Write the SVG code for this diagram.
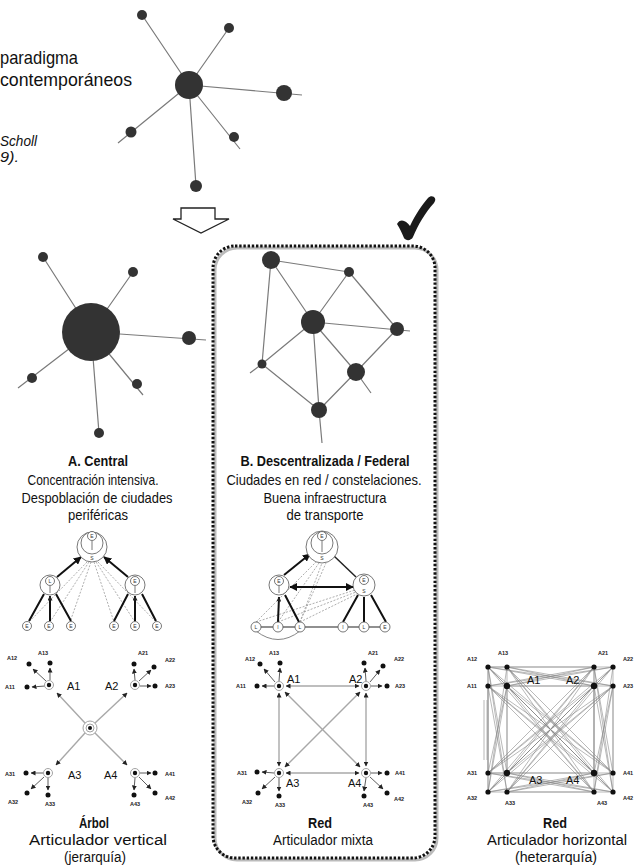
<svg xmlns="http://www.w3.org/2000/svg" width="638" height="865" viewBox="0 0 638 865">
<style>
text{font-family:"Liberation Sans Narrow","Liberation Sans",Arial,sans-serif;fill:#111}
.t{font-size:15px;text-anchor:middle}
.s{font-size:14px}
.b{font-weight:bold}
.hd{font-size:19px}
.lf{font-size:5.5px;font-weight:bold;text-anchor:middle;fill:#222}
.hb{font-size:11px}
.ch{font-size:5px;text-anchor:middle;fill:#333}
.sl{stroke:#7a7a7a;stroke-width:1.2;fill:none}
.nd{fill:#333}
.ring{fill:#fff;stroke:#555;stroke-width:0.8}
.thk{stroke:#111;stroke-width:2;fill:none}
.thn{stroke:#222;stroke-width:1.2;fill:none}
.dsh{stroke:#999;stroke-width:0.8;stroke-dasharray:2 1.5;fill:none}
.gl{stroke:#a8a8a8;stroke-width:1.4;fill:none}
.la{stroke:#333;stroke-width:0.8;fill:none}
.ae{marker-end:url(#ma)}
.ab{marker-start:url(#ma);marker-end:url(#ma)}
.dot{fill:#111}
.hr{fill:#fff;stroke:#999;stroke-width:0.9}
.mesh{stroke:#8a8a8a;stroke-width:0.6;fill:none}
</style>
<defs>
<marker id="ma" viewBox="0 0 10 10" refX="9" refY="5" markerWidth="5" markerHeight="5" markerUnits="userSpaceOnUse" orient="auto-start-reverse"><path d="M0,0L10,5L0,10z" fill="#222"/></marker>
<marker id="mb" viewBox="0 0 10 10" refX="9" refY="5" markerWidth="8" markerHeight="8" markerUnits="userSpaceOnUse" orient="auto-start-reverse"><path d="M0,0L10,5L0,10z" fill="#111"/></marker>
</defs>

<g id="heading">
<text class="hd" x="0" y="64" textLength="78" lengthAdjust="spacingAndGlyphs">paradigma</text>
<text class="hd" x="0" y="86" textLength="132" lengthAdjust="spacingAndGlyphs">contemporáneos</text>
<text x="0" y="146" font-size="14" font-style="italic" textLength="37" lengthAdjust="spacingAndGlyphs">Scholl</text>
<text x="0" y="162" font-size="14" font-style="italic" textLength="19" lengthAdjust="spacingAndGlyphs">9).</text>
</g>

<g id="star-top">
<path class="sl" d="M189 85L142 15M189 85L229 28M189 85L302 95M189 85L118 143M189 85L240 149M189 85L196 186"/>
<circle class="nd" cx="189" cy="85" r="14"/>
<circle class="nd" cx="142" cy="15" r="5"/>
<circle class="nd" cx="229" cy="28" r="5"/>
<circle class="nd" cx="284" cy="93" r="8"/>
<circle class="nd" cx="131" cy="132" r="5.5"/>
<circle class="nd" cx="234" cy="137" r="5"/>
<circle class="nd" cx="196" cy="186" r="6"/>
</g>

<g id="transition-arrow">
<path d="M181 208H215V219H229L201 233L173 219H181Z" fill="#fff" stroke="#222" stroke-width="1.3"/>
</g>

<g id="checkmark">
<path d="M397 224C400 218 406 220 410 226C415 215 422 205 428 198C432 194 438 198 434 203C425 213 418 225 413 237C411 241 406 241 404 238C402 233 400 229 397 224Z" fill="#1a1a1a"/>
</g>

<g id="frame">
<rect x="215" y="248" width="222" height="612" rx="22" fill="none" stroke="#bbb" stroke-width="3"/>
<rect x="213" y="246" width="222" height="612" rx="22" fill="none" stroke="#111" stroke-width="3" stroke-dasharray="2.4 1.8"/>
</g>

<g id="star-central">
<path class="sl" d="M91 332L43 257M91 332L133 272M91 332L206 340M91 332L18 388M91 332L143 395M91 332L99 433"/>
<circle class="nd" cx="91" cy="332" r="29"/>
<circle class="nd" cx="43" cy="257" r="5"/>
<circle class="nd" cx="133" cy="272" r="5"/>
<circle class="nd" cx="189" cy="338" r="7"/>
<circle class="nd" cx="32" cy="378" r="5"/>
<circle class="nd" cx="137" cy="384" r="5"/>
<circle class="nd" cx="99" cy="433" r="5"/>
</g>

<g id="network-federal">
<path class="sl" d="M271 260L349 272M271 260L313 322M271 260L262 364M349 272L313 322M349 272L397 329M313 322L410 331M313 322L262 364M313 322L356 372M313 322L319 410M262 364L250 373M262 364L319 410M356 372L319 410M356 372L397 329M356 372L371 393M319 410L322 443"/>
<circle class="nd" cx="271" cy="260" r="9"/>
<circle class="nd" cx="349" cy="272" r="5"/>
<circle class="nd" cx="313" cy="322" r="12"/>
<circle class="nd" cx="397" cy="329" r="7"/>
<circle class="nd" cx="262" cy="364" r="4.5"/>
<circle class="nd" cx="356" cy="372" r="9"/>
<circle class="nd" cx="319" cy="410" r="8"/>
</g>

<g id="caption-central">
<text class="t b" x="98" y="466" textLength="60" lengthAdjust="spacingAndGlyphs">A. Central</text>
<text class="t" x="93" y="484.5" textLength="131" lengthAdjust="spacingAndGlyphs">Concentración intensiva.</text>
<text class="t" x="97" y="503" textLength="151" lengthAdjust="spacingAndGlyphs">Despoblación de ciudades</text>
<text class="t" x="98" y="520" textLength="60" lengthAdjust="spacingAndGlyphs">periféricas</text>
</g>

<g id="caption-federal">
<text class="t b" x="325" y="466" textLength="169" lengthAdjust="spacingAndGlyphs">B. Descentralizada / Federal</text>
<text class="t" x="324" y="484.5" textLength="195" lengthAdjust="spacingAndGlyphs">Ciudades en red / constelaciones.</text>
<text class="t" x="325" y="503" textLength="123" lengthAdjust="spacingAndGlyphs">Buena infraestructura</text>
<text class="t" x="325" y="520" textLength="77" lengthAdjust="spacingAndGlyphs">de transporte</text>
</g>

<g id="hier-central">
<path class="dsh" d="M87 562L29 622M89 562L50 622M91 562L70 622M94 562L114 622M96 562L135 622M98 562L156 622"/>
<path class="thk" d="M29 621L44 594M71 621L56 594M114 621L128 594M156 621L142 594"/>
<line class="thk" x1="50" y1="621" x2="50" y2="596" marker-end="url(#ma)"/>
<line class="thk" x1="135" y1="621" x2="135" y2="596" marker-end="url(#ma)"/>
<line class="thk" x1="57" y1="577" x2="81" y2="557" marker-end="url(#mb)"/>
<line class="thk" x1="128" y1="577" x2="104" y2="557" marker-end="url(#mb)"/>
<circle class="ring" cx="92" cy="547" r="15"/>
<circle class="ring" cx="92" cy="543" r="11"/>
<circle class="ring" cx="92" cy="536" r="4.5"/>
<line x1="92" y1="541" x2="92" y2="550" stroke="#555" stroke-width="0.8"/>
<text class="ch" x="92" y="538">E</text>
<text class="ch" x="92" y="560">S</text>
<circle class="ring" cx="50" cy="585" r="10"/>
<circle class="ring" cx="50" cy="581" r="4.5"/>
<line x1="50" y1="586" x2="50" y2="593" stroke="#555" stroke-width="0.8"/>
<text class="ch" x="50" y="583">L</text>
<circle class="ring" cx="135" cy="585" r="10"/>
<circle class="ring" cx="135" cy="581" r="4.5"/>
<line x1="135" y1="586" x2="135" y2="593" stroke="#555" stroke-width="0.8"/>
<text class="ch" x="135" y="583">E</text>
<circle class="ring" cx="27" cy="626" r="4.5"/><text class="ch" x="27" y="628">E</text>
<circle class="ring" cx="49" cy="626" r="4.5"/><text class="ch" x="49" y="628">E</text>
<circle class="ring" cx="71" cy="626" r="4.5"/><text class="ch" x="71" y="628">E</text>
<circle class="ring" cx="114" cy="626" r="4.5"/><text class="ch" x="114" y="628">E</text>
<circle class="ring" cx="135" cy="626" r="4.5"/><text class="ch" x="135" y="628">E</text>
<circle class="ring" cx="157" cy="626" r="4.5"/><text class="ch" x="157" y="628">E</text>
</g>

<g id="hier-federal">
<path class="dsh" d="M256 622L316 562M256 622L355 590M278 622L319 563M278 622L356 592M300 622L322 563M300 622L326 563M300 622L357 594"/>
<path d="M256 631Q278 648 300 631" fill="none" stroke="#666" stroke-width="0.8"/>
<path class="thn" d="M261 627H273M283 627H295M305 627H338M348 627H359M369 627H380"/>
<path class="thk" d="M285 595L299 622M358 595L343 622M364 597L364 622M371 595L386 622"/>
<line class="thk" x1="278" y1="622" x2="279" y2="597" marker-end="url(#ma)"/>
<line class="thk" x1="284" y1="575" x2="310" y2="554" marker-end="url(#mb)"/>
<line x1="334" y1="556" x2="356" y2="577" stroke="#222" stroke-width="1.5"/>
<line class="thk" x1="290" y1="587" x2="353" y2="587" marker-start="url(#mb)" marker-end="url(#mb)"/>
<circle class="ring" cx="322" cy="547" r="16"/>
<circle class="ring" cx="322" cy="543" r="11"/>
<circle class="ring" cx="322" cy="536" r="4.5"/>
<line x1="322" y1="541" x2="322" y2="552" stroke="#555" stroke-width="0.8"/>
<text class="ch" x="322" y="538">E</text>
<text class="ch" x="322" y="560">S</text>
<circle class="ring" cx="279" cy="585" r="10"/>
<circle class="ring" cx="279" cy="581" r="4.5"/>
<line x1="279" y1="586" x2="279" y2="593" stroke="#555" stroke-width="0.8"/>
<text class="ch" x="279" y="583">E</text>
<circle class="ring" cx="364" cy="585" r="11"/>
<circle class="ring" cx="364" cy="580" r="4.5"/>
<text class="ch" x="364" y="582">E</text>
<text class="ch" x="364" y="593">S</text>
<circle class="ring" cx="256" cy="627" r="5"/><text class="ch" x="256" y="629">L</text>
<circle class="ring" cx="278" cy="627" r="5"/><text class="ch" x="278" y="629">I</text>
<circle class="ring" cx="300" cy="627" r="5"/><text class="ch" x="300" y="629">L</text>
<circle class="ring" cx="343" cy="627" r="5"/><text class="ch" x="343" y="629">I</text>
<circle class="ring" cx="364" cy="627" r="5"/><text class="ch" x="364" y="629">L</text>
<circle class="ring" cx="385" cy="627" r="5"/><text class="ch" x="385" y="629">E</text>
</g>

<g id="tree-arbol">
<line class="gl ae" x1="85" y1="723" x2="57" y2="693"/>
<line class="gl ae" x1="95" y1="723" x2="127" y2="693"/>
<line class="gl ae" x1="85" y1="733" x2="56" y2="765"/>
<line class="gl ae" x1="95" y1="733" x2="127" y2="765"/>
<line class="la ae" x1="45" y1="686" x2="32" y2="687"/>
<line class="la ae" x1="46" y1="681" x2="33" y2="669"/>
<line class="la ae" x1="50" y1="680" x2="50" y2="668"/>
<line class="la ae" x1="135" y1="680" x2="134" y2="669"/>
<line class="la ae" x1="139" y1="681" x2="151" y2="670"/>
<line class="la ae" x1="140" y1="686" x2="151" y2="686"/>
<line class="la ae" x1="43" y1="773" x2="31" y2="773"/>
<line class="la ae" x1="44" y1="777" x2="31" y2="789"/>
<line class="la ae" x1="48" y1="778" x2="48" y2="790"/>
<line class="la ae" x1="140" y1="773" x2="151" y2="773"/>
<line class="la ae" x1="139" y1="777" x2="151" y2="789"/>
<line class="la ae" x1="135" y1="778" x2="134" y2="790"/>
<circle class="hr" cx="90" cy="728" r="7"/>
<circle class="hr" cx="90" cy="728" r="4"/>
<circle class="dot" cx="90" cy="728" r="2"/>
<circle class="hr" cx="49" cy="685" r="4.5"/><circle class="dot" cx="49" cy="685" r="2.2"/>
<circle class="hr" cx="135" cy="685" r="4.5"/><circle class="dot" cx="135" cy="685" r="2.2"/>
<circle class="hr" cx="48" cy="773" r="4.5"/><circle class="dot" cx="48" cy="773" r="2.2"/>
<circle class="hr" cx="135" cy="773" r="4.5"/><circle class="dot" cx="135" cy="773" r="2.2"/>
<g class="dot">
<circle cx="27" cy="687" r="2.5"/><circle cx="29" cy="664" r="2.5"/><circle cx="50" cy="663" r="2.5"/>
<circle cx="134" cy="664" r="2.5"/><circle cx="154" cy="667" r="2.5"/><circle cx="155" cy="686" r="2.5"/>
<circle cx="26" cy="773" r="2.5"/><circle cx="27" cy="793" r="2.5"/><circle cx="48" cy="795" r="2.5"/>
<circle cx="155" cy="773" r="2.5"/><circle cx="155" cy="793" r="2.5"/><circle cx="134" cy="795" r="2.5"/>
</g>
<text class="hb" x="67" y="690">A1</text>
<text class="hb" x="105" y="690">A2</text>
<text class="hb" x="68" y="779">A3</text>
<text class="hb" x="104" y="779">A4</text>
<text class="lf" x="10" y="689">A11</text><text class="lf" x="12" y="660">A12</text><text class="lf" x="43" y="655">A13</text>
<text class="lf" x="143" y="655">A21</text><text class="lf" x="170" y="662">A22</text><text class="lf" x="170" y="688">A23</text>
<text class="lf" x="10" y="776">A31</text><text class="lf" x="13" y="804">A32</text><text class="lf" x="50" y="806">A33</text>
<text class="lf" x="170" y="776">A41</text><text class="lf" x="170" y="800">A42</text><text class="lf" x="135" y="806">A43</text>
<text class="t b" x="94" y="828" textLength="30" lengthAdjust="spacingAndGlyphs">Árbol</text>
<text class="t s" x="98" y="845" textLength="138" lengthAdjust="spacingAndGlyphs">Articulador vertical</text>
<text class="t s" x="95" y="862" textLength="62" lengthAdjust="spacingAndGlyphs">(jerarquía)</text>
</g>

<g id="tree-mixta">
<line class="gl ab" x1="286" y1="686" x2="359" y2="686"/>
<line class="gl ab" x1="279" y1="693" x2="279" y2="766"/>
<line class="gl ab" x1="366" y1="693" x2="366" y2="766"/>
<line class="gl ab" x1="286" y1="773" x2="359" y2="773"/>
<line class="gl ab" x1="285" y1="692" x2="360" y2="767"/>
<line class="gl ab" x1="360" y1="692" x2="285" y2="767"/>
<line class="la ae" x1="274" y1="686" x2="262" y2="686"/>
<line class="la ae" x1="275" y1="682" x2="264" y2="669"/>
<line class="la ae" x1="279" y1="681" x2="280" y2="668"/>
<line class="la ae" x1="366" y1="681" x2="365" y2="668"/>
<line class="la ae" x1="370" y1="682" x2="380" y2="670"/>
<line class="la ae" x1="371" y1="686" x2="382" y2="686"/>
<line class="la ae" x1="274" y1="773" x2="262" y2="772"/>
<line class="la ae" x1="275" y1="777" x2="262" y2="789"/>
<line class="la ae" x1="279" y1="778" x2="279" y2="791"/>
<line class="la ae" x1="371" y1="773" x2="382" y2="773"/>
<line class="la ae" x1="370" y1="777" x2="383" y2="789"/>
<line class="la ae" x1="366" y1="778" x2="364" y2="791"/>
<circle class="hr" cx="279" cy="686" r="4.5"/><circle class="dot" cx="279" cy="686" r="2.2"/>
<circle class="hr" cx="366" cy="686" r="4.5"/><circle class="dot" cx="366" cy="686" r="2.2"/>
<circle class="hr" cx="279" cy="773" r="4.5"/><circle class="dot" cx="279" cy="773" r="2.2"/>
<circle class="hr" cx="366" cy="773" r="4.5"/><circle class="dot" cx="366" cy="773" r="2.2"/>
<g class="dot">
<circle cx="257" cy="686" r="2.5"/><circle cx="260" cy="664" r="2.5"/><circle cx="280" cy="663" r="2.5"/>
<circle cx="364" cy="663" r="2.5"/><circle cx="383" cy="666" r="2.5"/><circle cx="387" cy="686" r="2.5"/>
<circle cx="257" cy="772" r="2.5"/><circle cx="258" cy="793" r="2.5"/><circle cx="279" cy="796" r="2.5"/>
<circle cx="387" cy="773" r="2.5"/><circle cx="387" cy="793" r="2.5"/><circle cx="364" cy="796" r="2.5"/>
</g>
<text class="hb" x="287" y="683">A1</text>
<text class="hb" x="349" y="683">A2</text>
<text class="hb" x="286" y="787">A3</text>
<text class="hb" x="348" y="787">A4</text>
<text class="lf" x="241" y="688">A11</text><text class="lf" x="250" y="661">A12</text><text class="lf" x="274" y="655">A13</text>
<text class="lf" x="373" y="655">A21</text><text class="lf" x="399" y="661">A22</text><text class="lf" x="400" y="688">A23</text>
<text class="lf" x="242" y="775">A31</text><text class="lf" x="247" y="804">A32</text><text class="lf" x="280" y="807">A33</text>
<text class="lf" x="400" y="775">A41</text><text class="lf" x="399" y="801">A42</text><text class="lf" x="368" y="807">A43</text>
<text class="t b" x="320" y="828" textLength="24" lengthAdjust="spacingAndGlyphs">Red</text>
<text class="t s" x="323" y="845" textLength="100" lengthAdjust="spacingAndGlyphs">Articulador mixta</text>
</g>

<g id="mesh-horizontal">
<path class="mesh" d="M488 667L594 773M488 667L613 773M488 667L594 792M488 667L613 792M507 667L594 773M507 667L613 773M507 667L594 792M507 667L613 792M488 686L594 773M488 686L613 773M488 686L594 792M488 686L613 792M507 686L594 773M507 686L613 773M507 686L594 792M507 686L613 792
M594 667L488 773M594 667L507 773M594 667L488 792M594 667L507 792M613 667L488 773M613 667L507 773M613 667L488 792M613 667L507 792M594 686L488 773M594 686L507 773M594 686L488 792M594 686L507 792M613 686L488 773M613 686L507 773M613 686L488 792M613 686L507 792
M488 667L594 667M488 667L613 667M488 667L594 686M488 667L613 686M507 667L594 686M507 667L613 686M488 686L594 667M488 686L613 667M488 686L613 686M507 686L594 667M507 686L613 667M507 686L594 686
M488 773L594 773M488 773L613 773M488 773L594 792M488 773L613 792M507 773L594 792M507 773L613 792M488 792L594 773M488 792L613 773M488 792L613 792M507 792L594 773M507 792L613 773M507 792L594 792
M488 667L488 773M488 667L507 773M488 667L488 792M488 667L507 792M507 667L488 792M507 667L507 773M488 686L507 792M488 686L488 792M507 686L507 773M507 686L488 773M507 686L488 792
M594 667L594 773M594 667L613 773M594 667L613 792M594 667L594 792M613 667L613 792M613 667L594 792M594 686L594 773M594 686L613 792M613 686L613 773M613 686L594 773M613 686L594 792"/>
<path d="M484 700V760M487 700V760" stroke="#999" stroke-width="0.7"/>
<g class="dot">
<circle cx="488" cy="667" r="2.6"/><circle cx="507" cy="667" r="2.6"/><circle cx="488" cy="686" r="2.6"/><circle cx="507" cy="686" r="3.2"/>
<circle cx="594" cy="667" r="2.6"/><circle cx="613" cy="667" r="2.6"/><circle cx="594" cy="686" r="3.2"/><circle cx="613" cy="686" r="2.6"/>
<circle cx="488" cy="773" r="2.6"/><circle cx="507" cy="773" r="3.2"/><circle cx="488" cy="792" r="2.6"/><circle cx="507" cy="792" r="2.6"/>
<circle cx="594" cy="773" r="3.2"/><circle cx="613" cy="773" r="2.6"/><circle cx="594" cy="792" r="2.6"/><circle cx="613" cy="792" r="2.6"/>
</g>
<text class="hb" x="527" y="684">A1</text>
<text class="hb" x="566" y="684">A2</text>
<text class="hb" x="529" y="784">A3</text>
<text class="hb" x="566" y="784">A4</text>
<text class="lf" x="472" y="661">A12</text><text class="lf" x="503" y="655">A13</text><text class="lf" x="472" y="688">A11</text>
<text class="lf" x="603" y="655">A21</text><text class="lf" x="628" y="661">A22</text><text class="lf" x="628" y="688">A23</text>
<text class="lf" x="472" y="775">A31</text><text class="lf" x="472" y="800">A32</text><text class="lf" x="510" y="805">A33</text>
<text class="lf" x="628" y="775">A41</text><text class="lf" x="628" y="800">A42</text><text class="lf" x="602" y="805">A43</text>
<text class="t b" x="555" y="828" textLength="24" lengthAdjust="spacingAndGlyphs">Red</text>
<text class="t s" x="557" y="845" textLength="140" lengthAdjust="spacingAndGlyphs">Articulador horizontal</text>
<text class="t s" x="556" y="862" textLength="82" lengthAdjust="spacingAndGlyphs">(heterarquía)</text>
</g>
</svg>
